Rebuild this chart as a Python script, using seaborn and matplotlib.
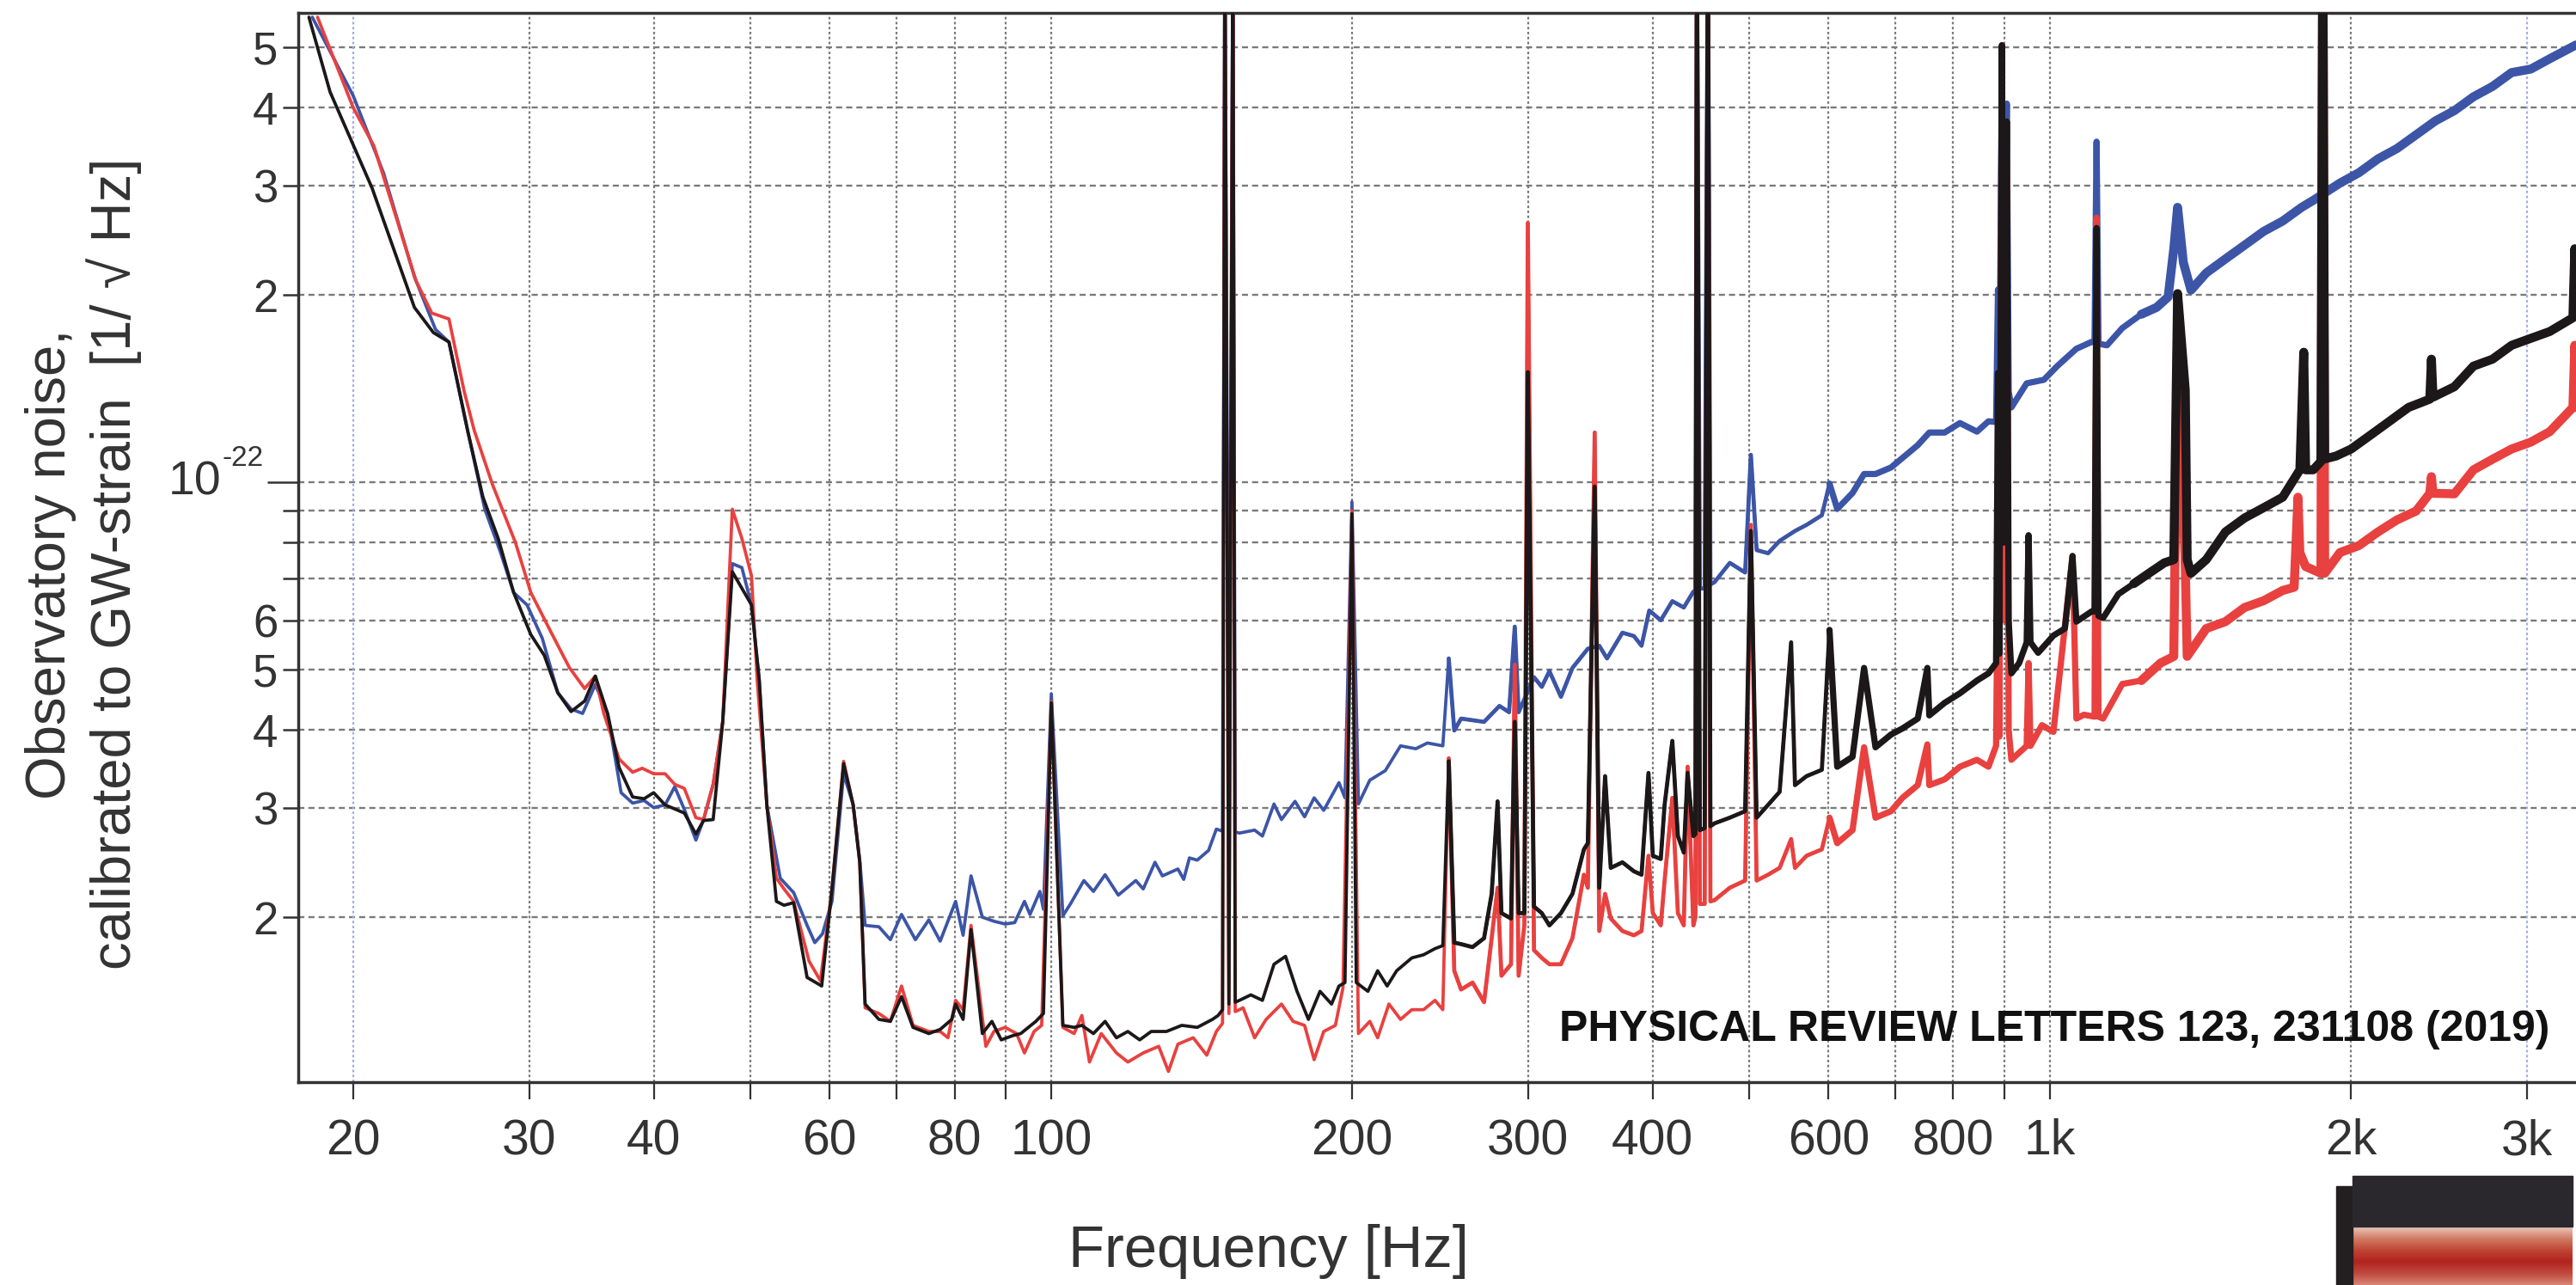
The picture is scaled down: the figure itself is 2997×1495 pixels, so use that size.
import numpy as np
import matplotlib
matplotlib.use("Agg")
import matplotlib.pyplot as plt
import matplotlib.transforms as mtransforms
import seaborn as sns
from matplotlib.ticker import FixedLocator, FixedFormatter, NullLocator
from matplotlib.patches import Rectangle
from matplotlib.colors import LinearSegmentedColormap

# ---------------- data (frequency in Hz, noise in units of 1e-23 / sqrt(Hz)) ----------------
UNIT = 1e-23

BLUE_FREQ = [
    18.2, 20.0, 21.45, 23.03, 24.18, 24.94, 26.03, 27.09, 28.06, 28.95,
    29.86, 30.93, 32.05, 33.05, 33.94, 34.95, 35.95, 37.09, 38.09, 39.11,
    39.98, 41.05, 41.97, 42.91, 44.07, 44.86, 45.86, 46.88, 47.93, 49.0,
    50.1, 51.0, 51.9, 53.53, 55.21, 56.95, 57.97, 59.0, 60.31, 61.95,
    63.33, 64.3, 65.1, 67.2, 69.0, 70.8, 73.1, 75.4, 77.4, 80.2,
    81.6, 83.1, 85.3, 87.6, 89.9, 91.9, 94.0, 95.2, 97.4, 98.2,
    100.0, 102.7, 104.5, 107.8, 110.2, 113.2, 116.7, 121.5, 123.6, 127.0,
    129.2, 133.9, 135.7, 137.5, 140.0, 143.7, 146.3, 148.4, 149.2, 150.6,
    152.0, 152.8, 154.3, 159.8, 162.7, 167.1, 170.0, 175.4, 179.3, 183.3,
    187.4, 194.1, 196.8, 200.0, 203.0, 208.4, 216.0, 223.7, 231.7, 238.0,
    246.6, 250.0, 253.2, 257.2, 271.2, 281.0, 287.3, 291.1, 293.7, 304.3,
    309.8, 315.3, 323.8, 332.5, 344.5, 353.7, 360.1, 373.1, 383.1, 389.9,
    396.9, 407.6, 418.6, 429.8, 439.4, 441.5, 443.0, 446.0, 451.0, 454.4,
    457.0, 461.4, 477.9, 495.1, 501.7, 508.4, 522.0, 536.1, 555.4, 570.4,
    590.9, 601.4, 612.2, 634.2, 651.3, 668.7, 692.9, 711.5, 737.1, 757.0,
    784.2, 812.4, 844.9, 867.6, 883.0, 886.9, 889.5, 894.9, 898.5, 905.1,
    909.0, 914.7, 947.5, 985.8, 1016.7, 1062.6, 1100.7, 1108.0, 1113.2, 1118.0,
    1140.2, 1181.1, 1234.2, 1278.5, 1312.8, 1330.1, 1341.8, 1359.8, 1383.9, 1433.5,
    1498.2, 1565.6, 1636.0, 1709.6, 1786.0, 1834.4, 1951.3, 2038.1, 2129.7, 2225.5,
    2325.6, 2430.7, 2540.0, 2654.2, 2773.6, 2898.3, 3028.6, 3164.9, 3361.3,
]
BLUE_ASD = [
    55.9, 41.8, 31.4, 21.4, 17.6, 16.8, 12.13, 9.05, 7.75, 6.65,
    6.35, 5.61, 4.59, 4.32, 4.25, 4.73, 4.25, 3.17, 3.05, 3.08,
    3.00, 3.03, 3.24, 2.98, 2.66, 2.87, 3.27, 4.12, 7.40, 7.29,
    6.35, 4.81, 3.03, 2.31, 2.19, 1.94, 1.82, 1.88, 2.12, 3.40,
    3.03, 2.47, 1.94, 1.93, 1.84, 2.02, 1.84, 1.98, 1.83, 2.12,
    1.87, 2.33, 2.00, 1.97, 1.95, 1.96, 2.12, 2.02, 2.20, 2.06,
    4.57, 2.01, 2.10, 2.29, 2.20, 2.34, 2.17, 2.29, 2.22, 2.45,
    2.33, 2.39, 2.30, 2.49, 2.47, 2.56, 2.77, 2.75, 80.0, 2.75,
    80.0, 2.74, 2.73, 2.76, 2.70, 3.04, 2.87, 3.07, 2.90, 3.11,
    2.97, 3.29, 3.11, 9.3, 3.04, 3.32, 3.44, 3.77, 3.73, 3.81,
    3.77, 5.21, 3.99, 4.17, 4.12, 4.37, 4.27, 5.86, 4.27, 4.86,
    4.69, 4.97, 4.52, 5.03, 5.40, 5.46, 5.21, 5.73, 5.66, 5.46,
    6.22, 6.00, 6.44, 6.29, 6.67, 6.70, 80.0, 6.75, 6.75, 80.0,
    6.85, 6.91, 7.42, 7.16, 11.07, 7.78, 7.69, 8.05, 8.35, 8.54,
    8.85, 9.95, 9.06, 9.61, 10.31, 10.31, 10.56, 10.94, 11.47, 12.02,
    12.02, 12.45, 12.06, 12.53, 12.5, 20.4, 13.0, 45.5, 20.0, 40.6,
    14.0, 13.19, 14.42, 14.61, 15.37, 16.39, 16.81, 16.8, 35.27, 16.7,
    16.60, 17.69, 18.62, 19.10, 19.85, 23.73, 27.66, 22.55, 20.36, 21.70,
    22.85, 24.04, 25.30, 26.29, 27.66, 28.38, 30.26, 31.44, 33.09, 34.39,
    36.18, 38.08, 39.56, 41.64, 43.27, 45.55, 46.13, 47.94, 50.44,
]

BLACK_FREQ = [
    18.06, 18.96, 20.89, 23.03, 24.06, 24.94, 26.03, 26.97, 27.94, 28.95,
    30.12, 31.07, 32.05, 33.05, 34.10, 34.95, 35.95, 36.92, 38.09, 39.11,
    39.98, 41.05, 42.91, 44.07, 44.86, 45.86, 46.88, 47.93, 50.10, 51.0,
    51.9, 53.06, 54.0, 55.21, 56.95, 58.9, 60.31, 61.95, 63.33, 64.3,
    65.1, 67.2, 69.0, 70.8, 72.7, 75.4, 77.4, 79.5, 80.2, 81.6,
    83.1, 85.3, 87.2, 89.1, 91.5, 93.2, 96.5, 98.2, 100.0, 102.7,
    105.4, 107.3, 110.2, 113.2, 116.2, 119.3, 122.6, 125.9, 130.4, 135.1,
    140.0, 145.0, 146.9, 148.4, 149.2, 150.6, 152.0, 152.8, 154.3, 158.4,
    162.7, 167.1, 171.6, 176.2, 180.9, 185.8, 190.8, 194.1, 196.8, 200.0,
    202.0, 207.5, 212.2, 216.9, 221.7, 229.6, 235.9, 242.2, 246.6, 250.0,
    253.2, 257.2, 264.1, 271.2, 276.0, 279.8, 282.3, 288.6, 291.1, 293.7,
    297.6, 300.0, 304.3, 309.8, 315.3, 323.8, 332.5, 341.4, 344.5, 350.0,
    353.7, 358.5, 363.2, 373.1, 383.1, 389.9, 396.2, 400.2, 407.6, 411.2,
    418.6, 424.0, 429.8, 433.6, 439.4, 441.5, 443.0, 446.0, 451.0, 454.4,
    457.0, 461.4, 477.9, 495.1, 501.7, 508.4, 522.0, 536.1, 550.5, 555.4,
    570.4, 590.9, 601.4, 612.2, 634.2, 651.3, 668.7, 692.9, 711.5, 737.1,
    753.6, 757.0, 784.2, 812.4, 844.9, 867.6, 883.0, 886.9, 889.5, 894.9,
    898.5, 905.1, 909.0, 914.7, 931.1, 947.5, 951.7, 955.9, 972.9, 1007.8,
    1034.8, 1053.1, 1062.6, 1100.7, 1108.0, 1113.2, 1118.0, 1130.0, 1170.6, 1212.8,
    1256.0, 1301.1, 1330.1, 1341.8, 1348.0, 1365.8, 1371.8, 1383.9, 1433.5, 1498.2,
    1565.6, 1636.0, 1709.6, 1778.7, 1794.7, 1802.6, 1834.4, 1867.2, 1875.4, 1883.6,
    1934.2, 2002.3, 2092.3, 2186.9, 2285.2, 2400.0, 2409.0, 2418.0, 2540.0, 2654.2,
    2773.6, 2898.3, 3028.6, 3164.9, 3338.0, 3352.6, 3361.3,
]
BLACK_ASD = [
    55.9, 42.4, 29.7, 19.1, 17.4, 16.8, 12.13, 9.47, 8.12, 6.65,
    5.69, 5.27, 4.59, 4.28, 4.45, 4.88, 4.25, 3.48, 3.12, 3.10,
    3.17, 3.03, 2.94, 2.72, 2.86, 2.87, 4.12, 7.18, 6.35, 4.81,
    3.03, 2.12, 2.09, 2.11, 1.60, 1.55, 2.22, 3.53, 3.03, 2.45,
    1.45, 1.37, 1.36, 1.49, 1.33, 1.30, 1.32, 1.37, 1.45, 1.37,
    1.91, 1.30, 1.36, 1.27, 1.29, 1.30, 1.36, 1.40, 4.42, 1.34,
    1.33, 1.34, 1.30, 1.36, 1.28, 1.31, 1.27, 1.31, 1.31, 1.34,
    1.33, 1.37, 1.39, 1.42, 80.0, 1.45, 80.0, 1.46, 1.47, 1.50,
    1.47, 1.68, 1.73, 1.52, 1.37, 1.52, 1.45, 1.55, 1.57, 8.9,
    1.57, 1.52, 1.64, 1.55, 1.64, 1.72, 1.74, 1.78, 1.80, 3.56,
    1.82, 1.81, 1.79, 1.85, 2.18, 3.07, 2.03, 1.99, 4.12, 2.03,
    2.03, 15.03, 2.08, 2.03, 1.94, 2.03, 2.18, 2.57, 2.63, 9.84,
    2.23, 3.37, 2.40, 2.45, 2.37, 2.34, 3.41, 2.51, 2.48, 3.03,
    3.84, 2.70, 2.54, 3.41, 2.70, 2.72, 80.0, 2.76, 2.78, 80.0,
    2.80, 2.83, 2.89, 2.96, 8.35, 2.89, 3.03, 3.18, 5.53, 3.26,
    3.37, 3.45, 5.79, 3.49, 3.62, 5.03, 3.75, 3.93, 4.02, 4.17,
    5.03, 4.22, 4.42, 4.58, 4.80, 4.93, 5.12, 14.98, 5.3, 50.4,
    8.0, 38.0, 6.0, 4.93, 5.12, 5.53, 8.22, 5.53, 5.32, 5.67,
    5.82, 7.61, 5.97, 6.20, 6.2, 25.62, 6.1, 6.05, 6.61, 6.87,
    7.14, 7.42, 7.51, 20.10, 18.38, 14.06, 7.51, 7.14, 7.51, 8.32,
    8.76, 9.10, 9.46, 10.47, 16.18, 10.47, 10.47, 10.8, 80.0, 10.9,
    11.02, 11.31, 11.90, 12.53, 13.19, 13.6, 15.77, 13.7, 14.24, 15.37,
    15.77, 16.60, 17.03, 17.47, 18.38, 23.73, 18.62,
]

RED_FREQ = [
    18.42, 20.0, 20.98, 23.11, 23.97, 24.94, 25.83, 26.43, 27.57, 29.07,
    30.12, 31.49, 32.91, 34.10, 34.95, 35.64, 36.92, 38.09, 38.94, 39.98,
    41.05, 41.97, 42.91, 44.07, 44.86, 45.86, 46.88, 47.93, 49.0, 50.1,
    50.76, 51.9, 53.06, 54.0, 55.21, 57.2, 58.73, 60.31, 61.95, 63.33,
    64.3, 65.1, 67.2, 69.0, 70.8, 72.7, 75.4, 77.4, 78.8, 80.2,
    81.6, 83.1, 86.0, 87.6, 89.9, 92.3, 94.0, 96.1, 97.8, 100.0,
    102.7, 105.4, 107.3, 109.2, 112.2, 116.2, 119.3, 123.6, 128.1, 131.0,
    133.9, 138.7, 143.1, 146.3, 148.4, 149.2, 150.6, 152.0, 152.8, 154.3,
    155.6, 159.8, 164.1, 170.0, 174.6, 179.3, 183.3, 187.4, 192.5, 195.9,
    200.0, 203.0, 208.4, 212.2, 217.8, 223.7, 229.6, 235.9, 242.2, 246.6,
    250.0, 253.2, 257.2, 264.1, 271.2, 276.0, 279.8, 282.3, 288.6, 291.1,
    293.7, 297.6, 300.0, 304.3, 309.8, 315.3, 323.8, 332.5, 341.4, 344.5,
    350.0, 353.7, 358.5, 363.2, 373.1, 383.1, 389.9, 396.2, 400.2, 407.6,
    411.2, 418.6, 424.0, 429.8, 433.6, 439.4, 441.5, 443.0, 446.0, 451.0,
    454.4, 457.0, 461.4, 477.9, 495.1, 501.7, 508.4, 522.0, 536.1, 550.5,
    555.4, 570.4, 590.9, 601.4, 612.2, 634.2, 651.3, 668.7, 692.9, 711.5,
    737.1, 753.6, 757.0, 784.2, 812.4, 844.9, 867.6, 883.0, 886.9, 889.5,
    894.9, 898.5, 905.1, 909.0, 914.7, 947.5, 951.7, 955.9, 981.5, 1007.8,
    1053.1, 1062.6, 1081.3, 1108.0, 1113.2, 1118.0, 1130.0, 1181.1, 1234.2, 1289.7,
    1330.1, 1341.8, 1365.8, 1371.8, 1433.5, 1498.2, 1565.6, 1636.0, 1709.6, 1755.5,
    1770.9, 1778.7, 1802.6, 1867.2, 1875.4, 1883.6, 1951.3, 2038.1, 2129.7, 2225.5,
    2325.6, 2400.0, 2409.0, 2418.0, 2540.0, 2654.2, 2773.6, 2898.3, 3028.6, 3164.9,
    3338.0, 3352.6, 3361.3,
]
RED_ASD = [
    55.9, 40.0, 34.7, 21.1, 18.7, 18.3, 14.0, 12.13, 9.92, 8.0,
    6.65, 5.78, 5.04, 4.66, 4.88, 4.25, 3.59, 3.42, 3.47, 3.40,
    3.40, 3.27, 3.22, 2.89, 2.87, 3.27, 4.12, 9.05, 8.12, 7.07,
    4.81, 3.03, 2.31, 2.22, 2.12, 1.70, 1.58, 2.22, 3.56, 3.03,
    2.45, 1.43, 1.40, 1.36, 1.55, 1.34, 1.31, 1.31, 1.28, 1.47,
    1.42, 1.94, 1.24, 1.31, 1.33, 1.30, 1.21, 1.31, 1.34, 4.44,
    1.33, 1.30, 1.39, 1.17, 1.30, 1.21, 1.17, 1.21, 1.24, 1.13,
    1.25, 1.28, 1.20, 1.31, 1.35, 80.0, 1.40, 80.0, 1.41, 1.42,
    1.43, 1.28, 1.37, 1.45, 1.36, 1.34, 1.18, 1.31, 1.34, 1.54,
    9.0, 1.30, 1.36, 1.28, 1.45, 1.37, 1.42, 1.42, 1.47, 1.42,
    3.60, 1.64, 1.53, 1.57, 1.46, 1.85, 2.23, 1.61, 1.68, 5.09,
    1.61, 1.94, 26.12, 1.77, 1.72, 1.68, 1.68, 1.85, 2.34, 2.23,
    12.02, 1.90, 2.18, 1.99, 1.90, 1.87, 1.90, 2.51, 2.03, 1.94,
    2.29, 3.11, 2.03, 1.94, 3.49, 1.94, 2.0, 80.0, 2.1, 2.1,
    80.0, 2.12, 2.13, 2.23, 2.29, 8.54, 2.29, 2.34, 2.40, 2.67,
    2.40, 2.51, 2.57, 2.89, 2.63, 2.76, 3.75, 2.89, 2.96, 3.11,
    3.26, 3.79, 3.26, 3.33, 3.49, 3.58, 3.49, 3.77, 8.0, 3.9,
    50.4, 6.0, 32.25, 4.0, 3.58, 3.77, 5.12, 3.77, 4.07, 3.97,
    7.61, 4.17, 4.23, 4.2, 26.62, 4.2, 4.17, 4.74, 4.80, 5.12,
    5.25, 17.03, 7.32, 5.25, 5.82, 5.97, 6.29, 6.45, 6.70, 6.78,
    9.46, 7.71, 7.32, 7.14, 80.0, 7.14, 7.71, 7.91, 8.32, 8.7,
    8.99, 9.6, 10.21, 9.6, 9.58, 10.47, 10.89, 11.31, 11.60, 12.06,
    13.19, 16.60, 13.19,
]

X_TICKS = [20, 30, 40, 50, 60, 70, 80, 90, 100, 200, 300, 400, 500, 600, 700, 800, 900, 1000, 2000, 3000]
X_LABELS = ["20", "30", "40", "", "60", "", "80", "", "100", "200", "300", "400", "", "600", "", "800", "", "1k", "2k", "3k"]
Y_MAJOR = [1e-22]
Y_MINOR = [2e-23, 3e-23, 4e-23, 5e-23, 6e-23, 7e-23, 8e-23, 9e-23, 2e-22, 3e-22, 4e-22, 5e-22]
Y_MINOR_LABELS = ["2", "3", "4", "5", "6", "", "", "", "2", "3", "4", "5"]

assert len(BLUE_FREQ) == len(BLUE_ASD)
assert len(BLACK_FREQ) == len(BLACK_ASD)
assert len(RED_FREQ) == len(RED_ASD)

# ---------------- style ----------------
sns.set_theme(style="white")
plt.rcParams["font.family"] = ["Liberation Sans", "DejaVu Sans"]

C_BLUE = "#3c55a6"
C_RED = "#e8413f"
C_BLACK = "#1c1718"
C_TEXT = "#333333"
C_GRID = "#7a7a7a"

W, H = 2997, 1495
fig = plt.figure(figsize=(W / 100, H / 100), dpi=100)
fig.patch.set_facecolor("white")
ax = fig.add_axes([347 / W, 1 - 1259 / H, (W - 347) / W, (1259 - 15) / H])
ax.set_facecolor("white")
ax.set_xscale("log")
ax.set_yscale("log")


def draw(freq, asd, color, z):
    f = np.asarray(freq)
    v = np.asarray(asd) * UNIT
    tiers = [(0, 2.7), (250, 3.4), (600, 5.2), (1200, 7.5)]
    for k, (fmin, lw) in enumerate(tiers):
        m = f >= fmin
        sns.lineplot(x=f[m], y=v[m], ax=ax, color=color, linewidth=lw,
                     estimator=None, sort=False, zorder=z + 0.01 * k)


draw(BLUE_FREQ, BLUE_ASD, C_BLUE, 3.0)
draw(RED_FREQ, RED_ASD, C_RED, 3.1)
draw(BLACK_FREQ, BLACK_ASD, C_BLACK, 3.2)

ax.set_xlim(17.62, 3362)
ax.set_ylim(1.086e-23, 5.68e-22)

# ticks
ax.xaxis.set_major_locator(FixedLocator(X_TICKS))
ax.xaxis.set_major_formatter(FixedFormatter(X_LABELS))
ax.xaxis.set_minor_locator(NullLocator())
ax.yaxis.set_major_locator(FixedLocator(Y_MAJOR))
ax.yaxis.set_major_formatter(FixedFormatter([""]))
ax.yaxis.set_minor_locator(FixedLocator(Y_MINOR))
ax.yaxis.set_minor_formatter(FixedFormatter(Y_MINOR_LABELS))

ax.tick_params(axis="x", which="major", bottom=True, direction="out", length=14.4,
               width=1.6, color=C_TEXT, labelsize=41, labelcolor=C_TEXT, pad=16)
ax.tick_params(axis="y", which="major", left=True, direction="out", length=26,
               width=1.8, color=C_TEXT, labelsize=38, labelcolor=C_TEXT, pad=1)
ax.tick_params(axis="y", which="minor", left=True, direction="out", length=13,
               width=1.8, color=C_TEXT, labelsize=38, labelcolor=C_TEXT, pad=4)

# 10^-22 label written as base + superscript
blend = mtransforms.blended_transform_factory(ax.transAxes, ax.transData)
ax.text(-90 / 2650, Y_MAJOR[0], "10", transform=blend, ha="right", va="center",
        fontsize=40, color=C_TEXT, clip_on=False)
ax.text(-88 / 2650, Y_MAJOR[0] * 10 ** (19 / 724), "-22", transform=blend, ha="left",
        va="baseline", fontsize=24, color=C_TEXT, clip_on=False)

# grid
ax.grid(False)
ax.yaxis.grid(True, which="both", color=C_GRID, linestyle=(0, (3.0, 2.0)), linewidth=1.7)
for xt in X_TICKS:
    col = "#a4abe6" if xt in (20, 3000) else C_GRID
    ax.axvline(xt, color=col, linestyle=(0, (1.3, 1.3)), linewidth=1.6, zorder=0.6)
ax.set_axisbelow(True)

for s in ["left", "bottom", "top"]:
    ax.spines[s].set_color(C_TEXT)
    ax.spines[s].set_linewidth(2.5)
ax.spines["right"].set_visible(False)
ax.set_xlabel("")
ax.set_ylabel("")

# labels
fig.text(97 / W, 1 - 656 / H, "Observatory noise,\ncalibrated to GW-strain  [1/ \u221a Hz]",
         rotation=90, ha="center", va="center", multialignment="center",
         fontsize=47, color=C_TEXT, linespacing=1.2)
fig.text(1476 / W, 1 - 1456 / H, "Frequency [Hz]", ha="center", va="center",
         fontsize=49.5, color=C_TEXT)
fig.text(2966 / W, 1 - 1198 / H, "PHYSICAL REVIEW LETTERS 123, 231108 (2019)",
         ha="right", va="center", fontsize=36, fontweight="bold", color="#111111")

# decorative cropped block at bottom right
fig.add_artist(Rectangle((2718 / W, 0), 19 / W, (1495 - 1380) / H,
                         transform=fig.transFigure, color="#231f20", zorder=5))
fig.add_artist(Rectangle((2737 / W, 1 - 1427 / H), 256 / W, 59 / H,
                         transform=fig.transFigure, color="#2b282d", zorder=5))
grad_cmap = LinearSegmentedColormap.from_list(
    "band", ["#ecc9bc", "#d27c66", "#bf4634", "#b3231f", "#c0493c", "#d88474"])
axg = fig.add_axes([2737 / W, 0, 256 / W, (1495 - 1427) / H])
axg.imshow(np.linspace(0, 1, 200).reshape(-1, 1), aspect="auto", cmap=grad_cmap,
           extent=[0, 1, 0, 1])
axg.set_axis_off()

fig.savefig("out.png", dpi=100, facecolor="white")
